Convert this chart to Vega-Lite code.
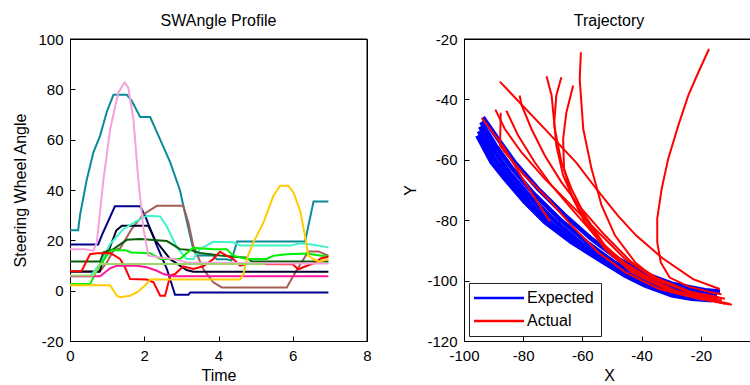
{
"$schema": "https://vega.github.io/schema/vega-lite/v6.json",
"padding": {"left": 12, "top": 12, "right": 0, "bottom": 0},
"background": "white",
"config": {
  "view": {"stroke": "#000", "strokeWidth": 1},
  "font": "Liberation Sans",
  "title": {"font": "Liberation Sans", "fontSize": 16, "fontWeight": "normal", "color": "#000", "offset": 3},
  "axis": {"domainColor": "#000", "tickColor": "#000", "tickSize": -5, "labelPadding": 12, "labelFont": "Liberation Sans", "labelFontSize": 15, "labelColor": "#000", "titleFont": "Liberation Sans", "titleFontSize": 16, "titleFontWeight": "normal", "titleColor": "#000", "grid": false, "labelFlush": false, "labelOverlap": false, "labelBound": false, "titlePadding": 4},
  "legend": {"labelFont": "Liberation Sans", "labelFontSize": 16, "labelColor": "#000"}
},
"resolve": {"scale": {"color": "independent"}},
"datasets": {
  "left": [
    {"s":"teal","t":0,"v":24},{"s":"teal","t":0.22,"v":24},{"s":"teal","t":0.27,"v":30},{"s":"teal","t":0.45,"v":44},{"s":"teal","t":0.63,"v":55},{"s":"teal","t":0.81,"v":61.5},{"s":"teal","t":0.99,"v":71},{"s":"teal","t":1.17,"v":77.8},{"s":"teal","t":1.53,"v":77.8},{"s":"teal","t":1.66,"v":75.5},{"s":"teal","t":1.89,"v":69},{"s":"teal","t":2.16,"v":69},{"s":"teal","t":2.34,"v":63},{"s":"teal","t":2.7,"v":51},{"s":"teal","t":2.96,"v":40},{"s":"teal","t":3.14,"v":28},{"s":"teal","t":3.32,"v":16.5},{"s":"teal","t":3.41,"v":14},{"s":"teal","t":3.86,"v":14},{"s":"teal","t":3.95,"v":12.5},{"s":"teal","t":4.22,"v":12.5},{"s":"teal","t":4.35,"v":12},{"s":"teal","t":4.5,"v":19.5},{"s":"teal","t":6.33,"v":19.5},{"s":"teal","t":6.56,"v":35.4},{"s":"teal","t":6.96,"v":35.4},
    {"s":"navy","t":0,"v":18.3},{"s":"navy","t":0.76,"v":18.3},{"s":"navy","t":0.85,"v":21.8},{"s":"navy","t":1.21,"v":33.5},{"s":"navy","t":1.89,"v":33.5},{"s":"navy","t":2.02,"v":29.8},{"s":"navy","t":2.34,"v":17.9},{"s":"navy","t":2.61,"v":8.6},{"s":"navy","t":2.83,"v":-1.6},{"s":"navy","t":3.19,"v":-1.6},{"s":"navy","t":3.24,"v":-0.7},{"s":"navy","t":6.96,"v":-0.7},
    {"s":"brown","t":0,"v":7.7},{"s":"brown","t":0.81,"v":7.7},{"s":"brown","t":0.99,"v":11.2},{"s":"brown","t":1.17,"v":15.9},{"s":"brown","t":1.35,"v":16.8},{"s":"brown","t":1.66,"v":24.5},{"s":"brown","t":1.98,"v":30.4},{"s":"brown","t":2.34,"v":33.7},{"s":"brown","t":3.05,"v":33.7},{"s":"brown","t":3.19,"v":27},{"s":"brown","t":3.32,"v":17.9},{"s":"brown","t":3.59,"v":8.6},{"s":"brown","t":3.86,"v":3.3},{"s":"brown","t":4.09,"v":1.3},{"s":"brown","t":5.84,"v":1.3},{"s":"brown","t":6.02,"v":6},{"s":"brown","t":6.42,"v":15.6},{"s":"brown","t":6.69,"v":15.6},{"s":"brown","t":6.96,"v":13.9},
    {"s":"black","t":0,"v":7.5},{"s":"black","t":0.8,"v":7.5},{"s":"black","t":0.92,"v":13.9},{"s":"black","t":1.07,"v":17},{"s":"black","t":1.25,"v":24},{"s":"black","t":1.4,"v":25.8},{"s":"black","t":2.11,"v":25.8},{"s":"black","t":2.3,"v":20},{"s":"black","t":2.7,"v":12.5},{"s":"black","t":3.14,"v":8.2},{"s":"black","t":3.32,"v":7.5},{"s":"black","t":6.96,"v":7.5},
    {"s":"turquoise","t":0,"v":5.7},{"s":"turquoise","t":0.54,"v":5.7},{"s":"turquoise","t":0.81,"v":10.6},{"s":"turquoise","t":1.08,"v":18.5},{"s":"turquoise","t":1.44,"v":24.5},{"s":"turquoise","t":1.89,"v":28.4},{"s":"turquoise","t":2.07,"v":29.8},{"s":"turquoise","t":2.43,"v":29.5},{"s":"turquoise","t":2.61,"v":25.4},{"s":"turquoise","t":2.88,"v":17.2},{"s":"turquoise","t":3.14,"v":12.6},{"s":"turquoise","t":3.32,"v":12.6},{"s":"turquoise","t":3.5,"v":16.5},{"s":"turquoise","t":3.86,"v":19.4},{"s":"turquoise","t":4.4,"v":19.2},{"s":"turquoise","t":4.58,"v":17.9},{"s":"turquoise","t":5.93,"v":17.9},{"s":"turquoise","t":6.2,"v":18.8},{"s":"turquoise","t":6.56,"v":18.2},{"s":"turquoise","t":6.96,"v":17.2},
    {"s":"darkgreen","t":0,"v":11.6},{"s":"darkgreen","t":0.81,"v":11.6},{"s":"darkgreen","t":0.9,"v":15.2},{"s":"darkgreen","t":1.17,"v":16.5},{"s":"darkgreen","t":1.53,"v":20.2},{"s":"darkgreen","t":1.89,"v":20.5},{"s":"darkgreen","t":2.61,"v":19.7},{"s":"darkgreen","t":2.79,"v":18.1},{"s":"darkgreen","t":2.96,"v":16.5},{"s":"darkgreen","t":3.24,"v":16.2},{"s":"darkgreen","t":3.5,"v":15},{"s":"darkgreen","t":4.04,"v":14},{"s":"darkgreen","t":4.76,"v":13.1},{"s":"darkgreen","t":4.9,"v":11.6},{"s":"darkgreen","t":6.96,"v":11.6},
    {"s":"lime","t":0,"v":2.6},{"s":"lime","t":0.54,"v":2.6},{"s":"lime","t":0.72,"v":7.9},{"s":"lime","t":0.99,"v":13.9},{"s":"lime","t":1.12,"v":16.1},{"s":"lime","t":1.48,"v":16.1},{"s":"lime","t":1.66,"v":15.2},{"s":"lime","t":2.16,"v":14.9},{"s":"lime","t":2.43,"v":12.6},{"s":"lime","t":2.96,"v":12.6},{"s":"lime","t":3.14,"v":14.9},{"s":"lime","t":3.32,"v":17},{"s":"lime","t":3.86,"v":16.5},{"s":"lime","t":4.22,"v":16.5},{"s":"lime","t":4.4,"v":13.9},{"s":"lime","t":4.76,"v":12.6},{"s":"lime","t":5.3,"v":12.6},{"s":"lime","t":5.48,"v":13.9},{"s":"lime","t":5.84,"v":14.5},{"s":"lime","t":6.38,"v":14.8},{"s":"lime","t":6.96,"v":13.5},
    {"s":"red","t":0,"v":7.7},{"s":"red","t":0.31,"v":7.7},{"s":"red","t":0.54,"v":14.5},{"s":"red","t":0.72,"v":14.9},{"s":"red","t":1.08,"v":15},{"s":"red","t":1.35,"v":12.6},{"s":"red","t":1.48,"v":9.3},{"s":"red","t":1.62,"v":4.6},{"s":"red","t":2.07,"v":4.4},{"s":"red","t":2.25,"v":3.3},{"s":"red","t":2.43,"v":-2},{"s":"red","t":2.56,"v":-2},{"s":"red","t":2.7,"v":6},{"s":"red","t":2.83,"v":6.6},{"s":"red","t":3.05,"v":9.7},{"s":"red","t":3.32,"v":8.6},{"s":"red","t":3.59,"v":9.7},{"s":"red","t":3.86,"v":12.6},{"s":"red","t":4.04,"v":15.5},{"s":"red","t":4.22,"v":13.9},{"s":"red","t":4.4,"v":12.6},{"s":"red","t":4.58,"v":9.9},{"s":"red","t":4.76,"v":10.6},{"s":"red","t":6.0,"v":10.5},{"s":"red","t":6.15,"v":8.5},{"s":"red","t":6.4,"v":10},{"s":"red","t":6.6,"v":11},{"s":"red","t":6.75,"v":12.8},{"s":"red","t":6.96,"v":13.5},
    {"s":"magenta","t":0,"v":5.7},{"s":"magenta","t":0.81,"v":5.7},{"s":"magenta","t":1.08,"v":8.9},{"s":"magenta","t":1.26,"v":9.9},{"s":"magenta","t":1.8,"v":9.9},{"s":"magenta","t":2.07,"v":9.3},{"s":"magenta","t":2.34,"v":7.9},{"s":"magenta","t":2.52,"v":6.6},{"s":"magenta","t":2.79,"v":5.7},{"s":"magenta","t":6.96,"v":5.7},
    {"s":"gold","t":0,"v":2.2},{"s":"gold","t":1.08,"v":2.2},{"s":"gold","t":1.26,"v":-2},{"s":"gold","t":1.35,"v":-2.6},{"s":"gold","t":1.62,"v":-2},{"s":"gold","t":1.8,"v":-0.7},{"s":"gold","t":2.02,"v":2},{"s":"gold","t":2.16,"v":4.4},{"s":"gold","t":4.58,"v":4.4},{"s":"gold","t":4.67,"v":6.6},{"s":"gold","t":4.76,"v":12.6},{"s":"gold","t":4.94,"v":19.2},{"s":"gold","t":5.21,"v":27},{"s":"gold","t":5.48,"v":37.7},{"s":"gold","t":5.66,"v":41.7},{"s":"gold","t":5.88,"v":41.7},{"s":"gold","t":6.02,"v":39},{"s":"gold","t":6.2,"v":31.7},{"s":"gold","t":6.33,"v":21.8},{"s":"gold","t":6.42,"v":13.9},{"s":"gold","t":6.56,"v":12.5},{"s":"gold","t":6.7,"v":11.5},{"s":"gold","t":6.96,"v":12.5},
    {"s":"pink","t":0,"v":16.5},{"s":"pink","t":0.4,"v":16.5},{"s":"pink","t":0.63,"v":15.9},{"s":"pink","t":0.72,"v":19},{"s":"pink","t":0.9,"v":44},{"s":"pink","t":1.08,"v":64},{"s":"pink","t":1.3,"v":78.7},{"s":"pink","t":1.47,"v":82.7},{"s":"pink","t":1.57,"v":80.7},{"s":"pink","t":1.71,"v":68},{"s":"pink","t":1.84,"v":44},{"s":"pink","t":1.98,"v":24.5},{"s":"pink","t":2.11,"v":13.9},{"s":"pink","t":2.43,"v":13.2},{"s":"pink","t":2.79,"v":12.6},{"s":"pink","t":3.14,"v":11.2},{"s":"pink","t":5.3,"v":10.8},{"s":"pink","t":6.96,"v":10.8},
    {"s":"lightgreen","t":0,"v":6},{"s":"lightgreen","t":0.63,"v":6},{"s":"lightgreen","t":0.81,"v":10.6},{"s":"lightgreen","t":5.26,"v":10.6}
  ],
  "exp": [
    {"id":"E1","i":0,"x":-93.6,"y":-45.9},{"id":"E1","i":1,"x":-88.5,"y":-53.1},{"id":"E1","i":2,"x":-82.9,"y":-60.8},{"id":"E1","i":3,"x":-75,"y":-69.6},{"id":"E1","i":4,"x":-65.9,"y":-78.4},{"id":"E1","i":5,"x":-56.9,"y":-86.2},{"id":"E1","i":6,"x":-47.9,"y":-92.8},{"id":"E1","i":7,"x":-38.9,"y":-97.7},{"id":"E1","i":8,"x":-29.8,"y":-101},{"id":"E1","i":9,"x":-18.6,"y":-103.2},{"id":"E1","i":10,"x":-13.5,"y":-103.6},
    {"id":"E2","i":0,"x":-94.2,"y":-47.5},{"id":"E2","i":1,"x":-89.5,"y":-55},{"id":"E2","i":2,"x":-84,"y":-62.5},{"id":"E2","i":3,"x":-76.5,"y":-71.2},{"id":"E2","i":4,"x":-67.5,"y":-79.8},{"id":"E2","i":5,"x":-58.5,"y":-87.3},{"id":"E2","i":6,"x":-49.5,"y":-93.8},{"id":"E2","i":7,"x":-40,"y":-98.6},{"id":"E2","i":8,"x":-30,"y":-102},{"id":"E2","i":9,"x":-20,"y":-104.2},{"id":"E2","i":10,"x":-14.5,"y":-104.6},
    {"id":"E3","i":0,"x":-94.6,"y":-49},{"id":"E3","i":1,"x":-89.8,"y":-57},{"id":"E3","i":2,"x":-84.8,"y":-64},{"id":"E3","i":3,"x":-77.5,"y":-72.5},{"id":"E3","i":4,"x":-69,"y":-80.5},{"id":"E3","i":5,"x":-60,"y":-88},{"id":"E3","i":6,"x":-51,"y":-94.5},{"id":"E3","i":7,"x":-41.5,"y":-99.4},{"id":"E3","i":8,"x":-31,"y":-103},{"id":"E3","i":9,"x":-21,"y":-105},{"id":"E3","i":10,"x":-15,"y":-105.4},
    {"id":"E4","i":0,"x":-95,"y":-50.5},{"id":"E4","i":1,"x":-90.2,"y":-59},{"id":"E4","i":2,"x":-85.5,"y":-65.3},{"id":"E4","i":3,"x":-78.5,"y":-73.4},{"id":"E4","i":4,"x":-71,"y":-80.8},{"id":"E4","i":5,"x":-62,"y":-88},{"id":"E4","i":6,"x":-53,"y":-93.8},{"id":"E4","i":7,"x":-44,"y":-99},{"id":"E4","i":8,"x":-35,"y":-102.6},{"id":"E4","i":9,"x":-25,"y":-105.3},{"id":"E4","i":10,"x":-16,"y":-106},
    {"id":"E5","i":0,"x":-95.5,"y":-52},{"id":"E5","i":1,"x":-90.7,"y":-60.8},{"id":"E5","i":2,"x":-86.2,"y":-66.3},{"id":"E5","i":3,"x":-79.5,"y":-74},{"id":"E5","i":4,"x":-72.7,"y":-80.6},{"id":"E5","i":5,"x":-63.7,"y":-87.3},{"id":"E5","i":6,"x":-54.7,"y":-92.8},{"id":"E5","i":7,"x":-45.6,"y":-98.3},{"id":"E5","i":8,"x":-38.9,"y":-101.6},{"id":"E5","i":9,"x":-29.8,"y":-104.9},{"id":"E5","i":10,"x":-23.1,"y":-106},{"id":"E5","i":11,"x":-16.3,"y":-106.5}
  ],
  "act": [
    {"id":"A1","i":0,"x":-17.2,"y":-23.3},{"id":"A1","i":1,"x":-20.8,"y":-31},{"id":"A1","i":2,"x":-24.2,"y":-38.7},{"id":"A1","i":3,"x":-27.6,"y":-48.7},{"id":"A1","i":4,"x":-31,"y":-59.7},{"id":"A1","i":5,"x":-33.2,"y":-69.6},{"id":"A1","i":6,"x":-34.7,"y":-79.5},{"id":"A1","i":7,"x":-34.7,"y":-87.3},{"id":"A1","i":8,"x":-33.5,"y":-94},{"id":"A1","i":9,"x":-30.5,"y":-99},{"id":"A1","i":10,"x":-24,"y":-102},{"id":"A1","i":11,"x":-16,"y":-104},{"id":"A1","i":12,"x":-13,"y":-104.5},
    {"id":"A2","i":0,"x":-87.9,"y":-34.1},{"id":"A2","i":1,"x":-72,"y":-50.5},{"id":"A2","i":2,"x":-62,"y":-61},{"id":"A2","i":3,"x":-55,"y":-70},{"id":"A2","i":4,"x":-48,"y":-78.5},{"id":"A2","i":5,"x":-41.8,"y":-85.1},{"id":"A2","i":6,"x":-33,"y":-92.5},{"id":"A2","i":7,"x":-22.6,"y":-99.5},{"id":"A2","i":8,"x":-13.6,"y":-102.8},
    {"id":"A3","i":0,"x":-60.5,"y":-24.4},{"id":"A3","i":1,"x":-60.9,"y":-33.2},{"id":"A3","i":2,"x":-59.7,"y":-49.8},{"id":"A3","i":3,"x":-56.9,"y":-63},{"id":"A3","i":4,"x":-53.5,"y":-75.1},{"id":"A3","i":5,"x":-49,"y":-85},{"id":"A3","i":6,"x":-42.2,"y":-93.9},{"id":"A3","i":7,"x":-35.5,"y":-99.4},{"id":"A3","i":8,"x":-24.2,"y":-103.8},{"id":"A3","i":9,"x":-14,"y":-105.5},
    {"id":"A4","i":0,"x":-72.1,"y":-32.3},{"id":"A4","i":1,"x":-70.4,"y":-38.7},{"id":"A4","i":2,"x":-69.3,"y":-49.8},{"id":"A4","i":3,"x":-67.1,"y":-60.8},{"id":"A4","i":4,"x":-63.7,"y":-69.6},{"id":"A4","i":5,"x":-59.2,"y":-78.4},{"id":"A4","i":6,"x":-52.4,"y":-88.4},{"id":"A4","i":7,"x":-43.4,"y":-96.1},{"id":"A4","i":8,"x":-34.3,"y":-101.6},{"id":"A4","i":9,"x":-23.1,"y":-104.9},{"id":"A4","i":10,"x":-12.9,"y":-106.5},
    {"id":"A5","i":0,"x":-67.1,"y":-32.7},{"id":"A5","i":1,"x":-68.8,"y":-38.7},{"id":"A5","i":2,"x":-69.5,"y":-47.6},{"id":"A5","i":3,"x":-68.8,"y":-55.3},{"id":"A5","i":4,"x":-66.5,"y":-65.2},{"id":"A5","i":5,"x":-62.5,"y":-74},{"id":"A5","i":6,"x":-56.9,"y":-82.8},{"id":"A5","i":7,"x":-50.1,"y":-91.7},{"id":"A5","i":8,"x":-41.1,"y":-98.3},{"id":"A5","i":9,"x":-29.8,"y":-103.2},{"id":"A5","i":10,"x":-18.6,"y":-106},{"id":"A5","i":11,"x":-11.8,"y":-107.7},
    {"id":"A6","i":0,"x":-63.1,"y":-35.4},{"id":"A6","i":1,"x":-65.4,"y":-44.3},{"id":"A6","i":2,"x":-66.5,"y":-53.1},{"id":"A6","i":3,"x":-66.2,"y":-63},{"id":"A6","i":4,"x":-63.7,"y":-71.8},{"id":"A6","i":5,"x":-59.2,"y":-80.6},{"id":"A6","i":6,"x":-52.4,"y":-89.5},{"id":"A6","i":7,"x":-43.4,"y":-97.2},{"id":"A6","i":8,"x":-32.1,"y":-102.7},{"id":"A6","i":9,"x":-20.8,"y":-105.5},{"id":"A6","i":10,"x":-10.1,"y":-107.7},
    {"id":"A7","i":0,"x":-81.2,"y":-38.7},{"id":"A7","i":1,"x":-80.5,"y":-42},{"id":"A7","i":2,"x":-77.2,"y":-49.8},{"id":"A7","i":3,"x":-72.7,"y":-58.6},{"id":"A7","i":4,"x":-67.1,"y":-67.4},{"id":"A7","i":5,"x":-60.3,"y":-76.2},{"id":"A7","i":6,"x":-52.4,"y":-85},{"id":"A7","i":7,"x":-43.4,"y":-93.9},{"id":"A7","i":8,"x":-34.3,"y":-99.4},{"id":"A7","i":9,"x":-23.1,"y":-103.8},{"id":"A7","i":10,"x":-11.8,"y":-106},
    {"id":"A8","i":0,"x":-85.7,"y":-43.7},{"id":"A8","i":1,"x":-81.7,"y":-52},{"id":"A8","i":2,"x":-76.1,"y":-60.8},{"id":"A8","i":3,"x":-70.4,"y":-68.5},{"id":"A8","i":4,"x":-63.7,"y":-76.2},{"id":"A8","i":5,"x":-55.8,"y":-85},{"id":"A8","i":6,"x":-47.9,"y":-92.8},{"id":"A8","i":7,"x":-38.9,"y":-98.3},{"id":"A8","i":8,"x":-27.6,"y":-103.8},{"id":"A8","i":9,"x":-15.2,"y":-106.5},
    {"id":"A9","i":0,"x":-89.4,"y":-43.4},{"id":"A9","i":1,"x":-86.2,"y":-49.8},{"id":"A9","i":2,"x":-80.6,"y":-57.5},{"id":"A9","i":3,"x":-72.7,"y":-66.3},{"id":"A9","i":4,"x":-63.7,"y":-75.1},{"id":"A9","i":5,"x":-54.7,"y":-83.9},{"id":"A9","i":6,"x":-45.6,"y":-92.8},{"id":"A9","i":7,"x":-36.6,"y":-98.8},{"id":"A9","i":8,"x":-24.2,"y":-103.8},{"id":"A9","i":9,"x":-14,"y":-106.2},
    {"id":"A10","i":0,"x":-87.6,"y":-44.4},{"id":"A10","i":1,"x":-87.8,"y":-55.3},{"id":"A10","i":2,"x":-86.2,"y":-57.5},{"id":"A10","i":3,"x":-79.5,"y":-65.2},{"id":"A10","i":4,"x":-71.6,"y":-72.9},{"id":"A10","i":5,"x":-63.7,"y":-81.7},{"id":"A10","i":6,"x":-54.7,"y":-90.6},{"id":"A10","i":7,"x":-45.6,"y":-97.2},{"id":"A10","i":8,"x":-34.3,"y":-102.7},{"id":"A10","i":9,"x":-20.8,"y":-106},{"id":"A10","i":10,"x":-9.5,"y":-108},
    {"id":"A11","i":0,"x":-93.9,"y":-46.2},{"id":"A11","i":1,"x":-86.2,"y":-56.4},{"id":"A11","i":2,"x":-79.5,"y":-67.4},{"id":"A11","i":3,"x":-71,"y":-80.4}
  ]
},
"spacing": 30,
"hconcat": [
  {
    "title": "SWAngle Profile",
    "width": 297, "height": 302,
    "layer": [
      {
        "data": {"name": "left"},
        "mark": {"type": "line", "strokeWidth": 2},
        "encoding": {
          "x": {"field": "t", "type": "quantitative", "scale": {"domain": [0, 8], "nice": false, "zero": false}, "axis": {"title": "Time", "values": [0, 2, 4, 6, 8], "labelExpr": "'' + datum.value"}},
          "y": {"field": "v", "type": "quantitative", "scale": {"domain": [-20, 100], "nice": false}, "axis": {"title": "Steering Wheel Angle", "values": [-20, 0, 20, 40, 60, 80, 100], "labelExpr": "'' + datum.value", "titlePadding": 9}},
          "color": {"field": "s", "type": "nominal", "legend": null, "scale": {
            "domain": ["teal","navy","brown","black","turquoise","darkgreen","lime","red","magenta","gold","pink","lightgreen"],
            "range": ["#0b8a9a","#00008c","#a55e55","#00002a","#3ff3c8","#0a5f0a","#00f000","#ff0000","#ff149c","#ffcc00","#f7a0dc","#9fd46a"]}}
        }
      },
      {
        "data": {"values": [{}]},
        "mark": {"type": "rule", "color": "#000", "strokeWidth": 1},
        "encoding": {"x": {"datum": 0, "type": "quantitative"}, "x2": {"datum": 8}, "y": {"datum": 100, "type": "quantitative"}}
      },
      {
        "data": {"values": [{}]},
        "mark": {"type": "rule", "color": "#000", "strokeWidth": 1},
        "encoding": {"x": {"datum": 8, "type": "quantitative"}, "y": {"datum": -20, "type": "quantitative"}, "y2": {"datum": 100}}
      }
    ]
  },
  {
    "title": "Trajectory",
    "width": 290, "height": 302,
    "layer": [
      {
        "data": {"name": "exp"},
        "transform": [{"calculate": "'Expected'", "as": "type"}],
        "mark": {"type": "line", "strokeWidth": 4.5},
        "encoding": {
          "x": {"field": "x", "type": "quantitative", "scale": {"domain": [-100, -2], "nice": false, "zero": false}, "axis": {"title": "X", "values": [-100, -80, -60, -40, -20], "labelExpr": "'' + datum.value"}},
          "y": {"field": "y", "type": "quantitative", "scale": {"domain": [-120, -20], "nice": false, "zero": false}, "axis": {"title": "Y", "values": [-120, -100, -80, -60, -40, -20], "labelExpr": "'' + datum.value", "titlePadding": 8}},
          "detail": {"field": "id"},
          "order": {"field": "i", "type": "quantitative"},
          "color": {"field": "type", "type": "nominal", "scale": {"domain": ["Expected", "Actual"], "range": ["#0000ff", "#ff0000"]},
            "legend": {"title": null, "orient": "bottom-left", "offset": 5, "symbolType": "M-5,0H5", "symbolSize": 100, "symbolStrokeWidth": 2.5, "symbolOffset": 15, "labelOffset": 20, "strokeColor": "#222", "fillColor": "white", "padding": 7, "rowPadding": 7, "cornerRadius": 0}}
        }
      },
      {
        "data": {"name": "act"},
        "transform": [{"calculate": "'Actual'", "as": "type"}],
        "mark": {"type": "line", "strokeWidth": 2},
        "encoding": {
          "x": {"field": "x", "type": "quantitative"},
          "y": {"field": "y", "type": "quantitative"},
          "detail": {"field": "id"},
          "order": {"field": "i", "type": "quantitative"},
          "color": {"field": "type", "type": "nominal"}
        }
      },
      {
        "data": {"values": [{}]},
        "mark": {"type": "rule", "color": "#000", "strokeWidth": 1},
        "encoding": {"x": {"datum": -100, "type": "quantitative"}, "x2": {"datum": -2}, "y": {"datum": -20, "type": "quantitative"}}
      }
    ]
  }
]
}
